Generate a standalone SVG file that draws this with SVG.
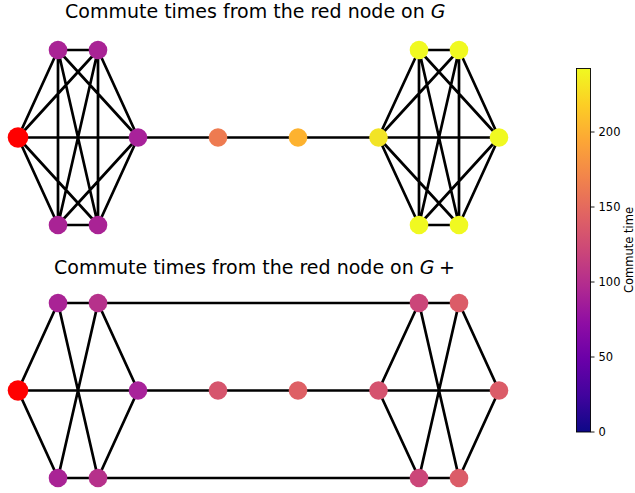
<svg xmlns="http://www.w3.org/2000/svg" width="635" height="493" viewBox="0 0 635 493">
<defs>
<linearGradient id="plasma" x1="0" y1="1" x2="0" y2="0">
<stop offset="0" stop-color="#0d0887"/>
<stop offset="0.1" stop-color="#41049d"/>
<stop offset="0.2" stop-color="#6a00a8"/>
<stop offset="0.3" stop-color="#8f0da4"/>
<stop offset="0.4" stop-color="#b12a90"/>
<stop offset="0.5" stop-color="#cc4778"/>
<stop offset="0.6" stop-color="#e16462"/>
<stop offset="0.7" stop-color="#f2844b"/>
<stop offset="0.8" stop-color="#fca636"/>
<stop offset="0.9" stop-color="#fcce25"/>
<stop offset="1" stop-color="#f0f921"/>
</linearGradient>
</defs>
<style>
.e{stroke:#000;stroke-width:2.7;fill:none}
.title{font-family:"DejaVu Sans",sans-serif;font-size:19px;fill:#000}
.tick{font-family:"DejaVu Sans",sans-serif;font-size:11.5px;fill:#000}
.tk{stroke:#000;stroke-width:0.9}
</style>
<rect width="635" height="493" fill="#fff"/>
<text class="title" x="65" y="18">Commute times from the red node on <tspan font-style="italic">G</tspan></text>
<text class="title" x="54" y="274">Commute times from the red node on <tspan font-style="italic">G</tspan><tspan dx="4.5">+</tspan></text>

<g id="connectors">
<!-- top graph -->
<path class="e" d="M18 137.5L58 50M18 137.5L98 50M18 137.5L58 225M18 137.5L98 225M18 137.5L138 137.5M58 50L98 50M58 50L58 225M58 50L98 225M58 50L138 137.5M98 50L58 225M98 50L98 225M98 50L138 137.5M58 225L98 225M58 225L138 137.5M98 225L138 137.5"/>
<path class="e" d="M138 137.5L218 137.5L298 137.5L378.5 137.5"/>
<path class="e" d="M378.5 137.5L419 50M378.5 137.5L459 50M378.5 137.5L419 225M378.5 137.5L459 225M378.5 137.5L499 137.5M419 50L459 50M419 50L419 225M419 50L459 225M419 50L499 137.5M459 50L419 225M459 50L459 225M459 50L499 137.5M419 225L459 225M419 225L499 137.5M459 225L499 137.5"/>
<!-- bottom graph -->
<path class="e" d="M18 390.5L58 303M18 390.5L58 478M58 303L98 478M98 303L58 478M98 303L138 390.5M98 478L138 390.5"/>
<path class="e" d="M58 303L419 303L459 303M58 478L419 478L459 478M18 390.5L499 390.5"/>
<path class="e" d="M378.5 390.5L419 303M378.5 390.5L419 478M419 303L459 478M459 303L419 478M459 303L499 390.5M459 478L499 390.5"/>
</g>

<g id="nodes-top">
<circle id="t-red" cx="18" cy="137.5" r="10.3" fill="#ff0000"/>
<circle id="t-b" cx="58" cy="50" r="9.3" fill="#a92395"/>
<circle id="t-c" cx="98" cy="50" r="9.3" fill="#a92395"/>
<circle id="t-d" cx="58" cy="225" r="9.3" fill="#a92395"/>
<circle id="t-e" cx="98" cy="225" r="9.3" fill="#a92395"/>
<circle id="t-f" cx="138" cy="137.5" r="9.3" fill="#a8229a"/>
<circle id="t-m1" cx="218" cy="137.5" r="9.3" fill="#ee7b51"/>
<circle id="t-m2" cx="298" cy="137.5" r="9.3" fill="#fdb22f"/>
<circle id="t-g" cx="378.5" cy="137.5" r="9.3" fill="#f2e426"/>
<circle id="t-h" cx="419" cy="50" r="9.3" fill="#f0f921"/>
<circle id="t-i" cx="459" cy="50" r="9.3" fill="#f0f921"/>
<circle id="t-j" cx="419" cy="225" r="9.3" fill="#f0f921"/>
<circle id="t-k" cx="459" cy="225" r="9.3" fill="#f0f921"/>
<circle id="t-l" cx="499" cy="137.5" r="9.3" fill="#f0f921"/>
</g>

<g id="nodes-bottom">
<circle id="b-red" cx="18" cy="390.5" r="10.3" fill="#ff0000"/>
<circle id="b-b" cx="58" cy="303" r="9.3" fill="#a92395"/>
<circle id="b-c" cx="98" cy="303" r="9.3" fill="#b6318b"/>
<circle id="b-d" cx="58" cy="478" r="9.3" fill="#a92395"/>
<circle id="b-e" cx="98" cy="478" r="9.3" fill="#b6318b"/>
<circle id="b-f" cx="138" cy="390.5" r="9.3" fill="#a8239a"/>
<circle id="b-m1" cx="218" cy="390.5" r="9.3" fill="#d6556d"/>
<circle id="b-m2" cx="298" cy="390.5" r="9.3" fill="#de6065"/>
<circle id="b-g" cx="378.5" cy="390.5" r="9.3" fill="#d5536f"/>
<circle id="b-h" cx="419" cy="303" r="9.3" fill="#cb4679"/>
<circle id="b-i" cx="459" cy="303" r="9.3" fill="#db5c68"/>
<circle id="b-j" cx="419" cy="478" r="9.3" fill="#cb4679"/>
<circle id="b-k" cx="459" cy="478" r="9.3" fill="#db5c68"/>
<circle id="b-l" cx="499" cy="390.5" r="9.3" fill="#db5c68"/>
</g>

<g id="colorbar">
<rect x="576.5" y="68.5" width="14" height="363.5" fill="url(#plasma)" stroke="#000" stroke-width="0.9"/>
<path class="tk" d="M590.5 432H594.5M590.5 357H594.5M590.5 282H594.5M590.5 207H594.5M590.5 132H594.5"/>
<text class="tick" x="598.5" y="436.2">0</text>
<text class="tick" x="598.5" y="361.2">50</text>
<text class="tick" x="598.5" y="286.2">100</text>
<text class="tick" x="598.5" y="211.2">150</text>
<text class="tick" x="598.5" y="136.2">200</text>
<text class="tick" transform="translate(633 250) rotate(-90)" text-anchor="middle">Commute time</text>
</g>
</svg>
